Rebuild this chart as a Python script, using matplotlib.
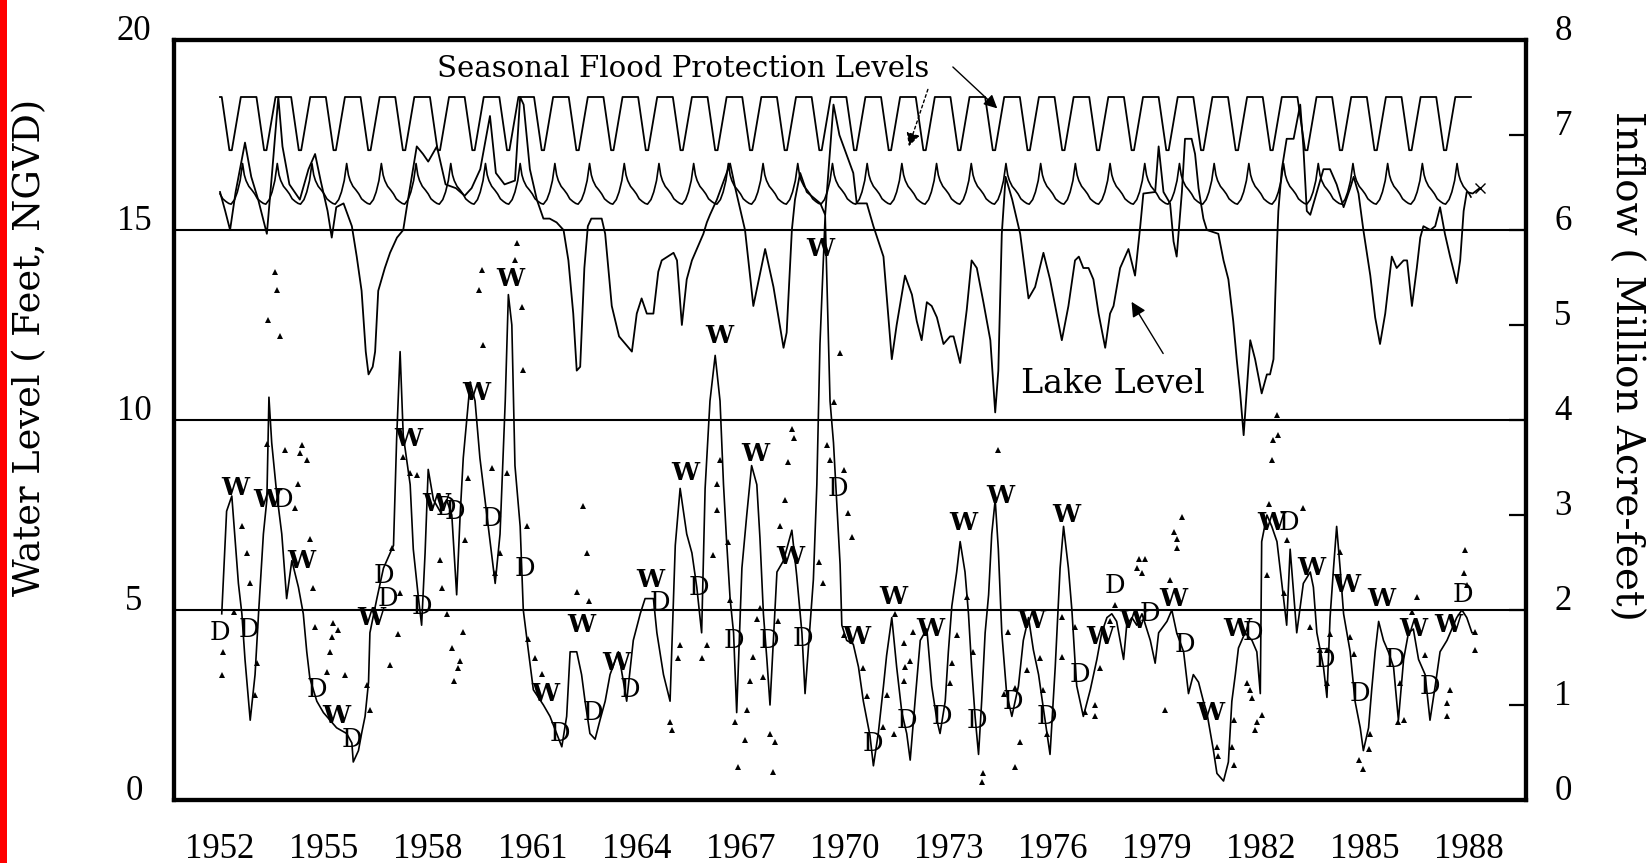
import numpy as np
import matplotlib
matplotlib.use("Agg")
import matplotlib.pyplot as plt
from matplotlib.patches import Rectangle
from matplotlib.transforms import ScaledTranslation, blended_transform_factory

# ---------------- data ----------------
# seasonal flood protection schedules (fraction of year, level ft NGVD), repeated each year
upper_phase = [0.0, 0.05, 0.27, 0.34, 0.60]
upper_level = [18.5, 18.5, 17.1, 17.1, 18.5]
lower_phase = [0.0, 0.08, 0.17, 0.25, 0.32, 0.42, 0.50, 0.58, 0.65, 0.70, 0.75, 0.83, 0.92]
lower_level = [15.95, 15.82, 15.75, 15.70, 15.68, 15.80, 16.00, 16.30, 16.75, 16.45, 16.30, 16.15, 16.05]
schedule_years = list(range(1952, 1989))
schedule_end = 1988.05

# lake level (year, ft NGVD)
lake = [
    (1952.00, 16.0), (1952.15, 15.5), (1952.29, 15.0), (1952.45, 16.0), (1952.72, 17.3),
    (1952.90, 16.4), (1953.10, 15.8), (1953.35, 14.9), (1953.50, 16.5), (1953.68, 18.5),
    (1953.80, 17.2), (1954.00, 16.2), (1954.30, 15.8), (1954.55, 16.6), (1954.74, 17.0),
    (1954.90, 16.3), (1955.10, 15.5), (1955.22, 14.8), (1955.35, 15.6), (1955.56, 15.7),
    (1955.80, 15.1), (1955.94, 14.3), (1956.08, 13.4), (1956.20, 11.8), (1956.28, 11.2),
    (1956.40, 11.4), (1956.47, 11.8), (1956.56, 13.4), (1956.75, 14.0), (1956.90, 14.4),
    (1957.10, 14.8), (1957.28, 15.0), (1957.40, 15.7), (1957.67, 17.2), (1957.85, 17.0),
    (1958.00, 16.8), (1958.25, 17.2), (1958.50, 16.2), (1958.80, 16.1), (1959.05, 15.9),
    (1959.25, 16.1), (1959.50, 16.6), (1959.78, 18.0), (1959.95, 16.5), (1960.20, 16.2),
    (1960.50, 16.3), (1960.65, 18.5), (1960.75, 18.3), (1960.93, 16.6), (1961.13, 15.8),
    (1961.32, 15.3), (1961.50, 15.3), (1961.70, 15.2), (1961.90, 15.0), (1962.04, 14.2),
    (1962.18, 12.8), (1962.28, 11.3), (1962.38, 11.4), (1962.50, 14.0), (1962.60, 15.1),
    (1962.70, 15.3), (1963.00, 15.3), (1963.10, 14.9), (1963.29, 13.0), (1963.50, 12.2),
    (1963.87, 11.8), (1964.01, 12.8), (1964.15, 13.2), (1964.30, 12.8), (1964.49, 12.8),
    (1964.63, 13.9), (1964.73, 14.2), (1965.07, 14.4), (1965.17, 14.2), (1965.31, 12.5),
    (1965.45, 13.7), (1965.60, 14.2), (1965.79, 14.6), (1965.93, 14.9), (1966.03, 15.2),
    (1966.12, 15.4), (1966.32, 15.8), (1966.70, 16.75), (1966.85, 16.1), (1967.13, 15.0),
    (1967.37, 13.0), (1967.71, 14.5), (1967.95, 13.5), (1968.24, 11.9), (1968.33, 12.3),
    (1968.48, 15.0), (1968.57, 15.8), (1968.72, 16.5), (1968.91, 16.0), (1969.30, 15.7),
    (1969.44, 15.4), (1969.68, 18.3), (1969.85, 17.5), (1970.25, 16.5), (1970.35, 15.7),
    (1970.64, 15.7), (1970.83, 15.1), (1971.12, 14.3), (1971.21, 13.3), (1971.36, 11.6),
    (1971.50, 12.5), (1971.74, 13.8), (1971.94, 13.3), (1972.08, 12.6), (1972.22, 12.1),
    (1972.37, 13.1), (1972.51, 13.0), (1972.66, 12.7), (1972.85, 12.0), (1973.04, 12.2),
    (1973.14, 12.2), (1973.33, 11.5), (1973.52, 12.9), (1973.66, 14.2), (1973.81, 14.0),
    (1974.00, 13.1), (1974.20, 12.1), (1974.34, 10.2), (1974.43, 11.3), (1974.53, 14.9),
    (1974.64, 16.4), (1974.83, 15.8), (1975.06, 14.9), (1975.30, 13.2), (1975.49, 13.5),
    (1975.73, 14.4), (1975.92, 13.7), (1976.26, 12.1), (1976.45, 13.0), (1976.64, 14.2),
    (1976.75, 14.3), (1976.88, 14.0), (1977.03, 14.0), (1977.17, 13.7), (1977.32, 12.8),
    (1977.51, 11.9), (1977.65, 12.8), (1977.75, 13.0), (1977.94, 14.0), (1978.18, 14.5),
    (1978.37, 13.8), (1978.52, 15.1), (1978.61, 15.96), (1978.95, 16.0), (1979.05, 17.2),
    (1979.19, 16.0), (1979.38, 15.7), (1979.48, 14.7), (1979.57, 14.3), (1979.72, 16.0),
    (1979.81, 17.4), (1980.00, 17.4), (1980.10, 17.0), (1980.20, 16.1), (1980.34, 15.3),
    (1980.44, 15.0), (1980.77, 14.9), (1980.92, 14.2), (1981.06, 13.7), (1981.20, 12.6),
    (1981.30, 11.6), (1981.40, 10.7), (1981.50, 9.6), (1981.60, 10.9), (1981.69, 12.1),
    (1981.83, 11.6), (1982.02, 10.7), (1982.17, 11.2), (1982.26, 11.2), (1982.36, 11.6),
    (1982.41, 13.2), (1982.46, 14.6), (1982.50, 15.5), (1982.60, 16.6), (1982.74, 17.4),
    (1982.94, 17.4), (1983.13, 18.3), (1983.22, 17.2), (1983.32, 15.5), (1983.42, 15.4),
    (1983.61, 16.0), (1983.80, 16.6), (1983.99, 16.6), (1984.18, 16.2), (1984.38, 15.6),
    (1984.57, 16.1), (1984.67, 16.4), (1984.81, 15.96), (1984.95, 15.0), (1985.15, 13.8),
    (1985.29, 12.7), (1985.43, 12.0), (1985.58, 12.8), (1985.77, 14.3), (1985.91, 14.0),
    (1986.11, 14.2), (1986.21, 14.2), (1986.35, 13.0), (1986.49, 14.0), (1986.59, 14.8),
    (1986.68, 15.1), (1986.88, 15.0), (1987.02, 15.1), (1987.16, 15.6), (1987.30, 14.9),
    (1987.45, 14.3), (1987.64, 13.6), (1987.74, 14.2), (1987.84, 15.5), (1987.93, 16.0),
    (1988.10, 15.96), (1988.30, 16.1),
]
lake_year = [p[0] for p in lake]
lake_level = [p[1] for p in lake]

# inflow (year, million acre-feet)
inflow_pts = [
    (1952.05, 1.96), (1952.19, 3.04), (1952.34, 3.20), (1952.53, 2.28), (1952.63, 1.96),
    (1952.72, 1.48), (1952.87, 0.84), (1953.01, 1.32), (1953.11, 1.96), (1953.25, 2.80),
    (1953.35, 3.16), (1953.41, 4.24), (1953.49, 3.76), (1953.63, 3.24), (1953.78, 2.80),
    (1953.92, 2.12), (1954.07, 2.52), (1954.26, 2.24), (1954.40, 1.96), (1954.50, 1.56),
    (1954.59, 1.28), (1954.79, 1.04), (1954.98, 0.92), (1955.17, 0.84), (1955.36, 0.76),
    (1955.65, 0.70), (1955.80, 0.60), (1955.84, 0.40), (1955.99, 0.52), (1956.08, 0.70),
    (1956.18, 0.88), (1956.28, 1.24), (1956.32, 1.76), (1956.52, 2.12), (1956.71, 2.44),
    (1957.00, 2.68), (1957.09, 3.80), (1957.19, 4.72), (1957.28, 3.84), (1957.48, 3.32),
    (1957.57, 2.64), (1957.72, 2.12), (1957.81, 1.84), (1957.91, 2.60), (1958.00, 3.48),
    (1958.15, 3.16), (1958.34, 3.04), (1958.53, 3.16), (1958.68, 3.00), (1958.82, 2.16),
    (1958.92, 3.00), (1959.01, 3.60), (1959.21, 4.40), (1959.35, 4.20), (1959.49, 3.60),
    (1959.69, 3.00), (1959.93, 2.28), (1960.07, 2.80), (1960.22, 4.20), (1960.31, 5.32),
    (1960.41, 5.00), (1960.50, 3.52), (1960.65, 2.88), (1960.74, 2.00), (1960.89, 1.56),
    (1961.03, 1.16), (1961.32, 1.00), (1961.51, 0.88), (1961.70, 0.70), (1961.85, 0.56),
    (1961.99, 0.88), (1962.09, 1.56), (1962.28, 1.56), (1962.42, 1.32), (1962.52, 1.04),
    (1962.66, 0.70), (1962.81, 0.64), (1962.95, 0.84), (1963.10, 1.04), (1963.24, 1.32),
    (1963.48, 1.56), (1963.72, 1.04), (1963.91, 1.68), (1964.11, 1.96), (1964.25, 2.12),
    (1964.49, 2.12), (1964.59, 1.76), (1964.78, 1.32), (1964.97, 1.04), (1965.12, 2.68),
    (1965.26, 3.28), (1965.45, 2.80), (1965.60, 2.60), (1965.74, 2.24), (1965.88, 1.76),
    (1965.98, 3.28), (1966.12, 4.20), (1966.27, 4.68), (1966.41, 4.20), (1966.51, 3.32),
    (1966.60, 2.72), (1966.70, 2.12), (1966.80, 1.76), (1966.89, 0.92), (1967.04, 2.44),
    (1967.18, 3.00), (1967.32, 3.52), (1967.47, 3.32), (1967.56, 2.76), (1967.66, 1.96),
    (1967.76, 1.48), (1967.85, 1.00), (1968.05, 2.40), (1968.24, 2.52), (1968.48, 2.84),
    (1968.62, 2.36), (1968.77, 1.76), (1968.86, 1.12), (1969.10, 2.32), (1969.20, 3.32),
    (1969.29, 4.80), (1969.44, 6.16), (1969.58, 4.20), (1969.68, 3.76), (1969.77, 3.16),
    (1969.87, 2.48), (1969.92, 1.84), (1970.06, 1.68), (1970.25, 1.64), (1970.40, 1.40),
    (1970.54, 1.04), (1970.73, 0.68), (1970.83, 0.36), (1970.97, 0.70), (1971.12, 1.20),
    (1971.21, 1.52), (1971.36, 1.92), (1971.50, 1.40), (1971.65, 0.92), (1971.79, 0.70),
    (1971.89, 0.42), (1972.03, 1.04), (1972.18, 1.68), (1972.37, 1.80), (1972.51, 1.20),
    (1972.66, 0.84), (1972.75, 0.70), (1972.90, 1.04), (1972.99, 1.56), (1973.09, 2.04),
    (1973.23, 2.40), (1973.33, 2.72), (1973.47, 2.40), (1973.57, 1.96), (1973.66, 1.40),
    (1973.76, 0.88), (1973.86, 0.48), (1973.95, 1.04), (1974.05, 1.76), (1974.15, 2.16),
    (1974.24, 2.80), (1974.34, 3.16), (1974.43, 2.64), (1974.53, 1.76), (1974.67, 1.12),
    (1974.82, 0.88), (1975.01, 1.20), (1975.15, 1.68), (1975.30, 1.92), (1975.44, 1.58),
    (1975.59, 1.32), (1975.73, 0.96), (1975.92, 0.48), (1976.07, 1.40), (1976.21, 2.44),
    (1976.31, 2.88), (1976.45, 2.44), (1976.55, 2.00), (1976.65, 1.40), (1976.69, 1.20),
    (1976.88, 0.88), (1977.08, 1.16), (1977.27, 1.48), (1977.41, 1.76), (1977.56, 1.92),
    (1977.70, 1.96), (1977.84, 1.88), (1978.04, 1.48), (1978.13, 1.84), (1978.28, 1.92),
    (1978.42, 1.84), (1978.57, 1.96), (1978.81, 1.68), (1978.95, 1.44), (1979.05, 1.76),
    (1979.29, 1.88), (1979.43, 2.00), (1979.57, 1.76), (1979.77, 1.56), (1979.91, 1.12),
    (1980.05, 1.32), (1980.20, 1.24), (1980.34, 1.04), (1980.44, 0.92), (1980.63, 0.52),
    (1980.73, 0.28), (1980.92, 0.20), (1981.06, 0.40), (1981.16, 1.04), (1981.26, 1.32),
    (1981.35, 1.60), (1981.54, 1.76), (1981.74, 1.68), (1981.88, 1.56), (1981.98, 1.12),
    (1982.02, 2.72), (1982.17, 3.00), (1982.31, 2.88), (1982.46, 2.72), (1982.65, 2.12),
    (1982.74, 1.84), (1982.84, 2.64), (1983.03, 1.76), (1983.22, 2.28), (1983.42, 2.40),
    (1983.51, 2.24), (1983.61, 1.76), (1983.80, 1.40), (1983.90, 1.08), (1983.99, 1.92),
    (1984.09, 2.44), (1984.18, 2.88), (1984.28, 2.44), (1984.38, 1.96), (1984.57, 1.56),
    (1984.71, 1.04), (1984.86, 0.76), (1984.95, 0.52), (1985.10, 0.76), (1985.19, 1.16),
    (1985.29, 1.56), (1985.39, 1.88), (1985.53, 1.68), (1985.67, 1.56), (1985.82, 1.40),
    (1985.96, 0.84), (1986.11, 1.48), (1986.25, 1.76), (1986.39, 1.80), (1986.54, 1.48),
    (1986.73, 1.32), (1986.87, 0.84), (1987.02, 1.20), (1987.16, 1.56), (1987.36, 1.68),
    (1987.64, 1.92), (1987.79, 2.00), (1987.93, 1.92), (1988.08, 1.76), (1988.17, 1.76),
]
inflow_year = [p[0] for p in inflow_pts]
inflow_value = [p[1] for p in inflow_pts]

# individual monthly inflow points (triangles)
tri_pts = [
    (1953.35, 3.75), (1953.87, 3.68), (1954.35, 3.74), (1954.31, 3.65), (1954.50, 3.58),
    (1954.26, 3.33), (1954.16, 3.07), (1954.59, 2.75), (1954.69, 2.23), (1954.74, 1.82),
    (1955.27, 1.86), (1955.41, 1.79), (1955.22, 1.72), (1955.17, 1.56), (1955.07, 1.35),
    (1955.60, 1.32), (1952.10, 1.56), (1952.05, 1.32), (1952.39, 1.98), (1952.63, 2.88),
    (1952.77, 2.60), (1952.87, 2.28), (1953.06, 1.44), (1953.01, 1.11), (1956.23, 1.21),
    (1956.32, 0.95), (1956.95, 2.65), (1957.19, 2.18), (1957.14, 1.75), (1956.90, 1.42),
    (1957.28, 3.61), (1957.48, 3.44), (1957.67, 3.42), (1958.34, 2.53), (1958.39, 2.23),
    (1958.53, 1.96), (1959.01, 1.77), (1958.68, 1.60), (1958.92, 1.46), (1958.87, 1.39),
    (1958.73, 1.25), (1959.16, 3.39), (1959.83, 3.49), (1960.26, 3.44), (1959.06, 2.74),
    (1960.84, 2.88), (1962.47, 3.09), (1962.57, 2.60), (1962.28, 2.19), (1962.62, 2.09),
    (1960.89, 1.70), (1961.08, 1.49), (1961.27, 1.33), (1960.07, 2.60), (1959.93, 2.39),
    (1953.59, 5.56), (1953.63, 5.37), (1953.39, 5.05), (1953.73, 4.88), (1959.54, 5.58),
    (1959.45, 5.37), (1959.59, 4.79), (1960.55, 5.86), (1960.50, 5.68), (1960.69, 5.19),
    (1960.74, 4.53),
    (1968.48, 3.91), (1968.53, 3.81), (1968.38, 3.56), (1968.29, 3.16), (1968.14, 2.88),
    (1966.41, 3.58), (1966.32, 3.33), (1966.32, 3.05), (1966.22, 2.58), (1966.65, 2.72),
    (1966.70, 2.11), (1969.49, 3.74), (1969.58, 3.58), (1969.97, 3.47), (1970.11, 3.02),
    (1970.21, 2.77), (1969.25, 2.51), (1969.39, 2.28), (1965.26, 1.63), (1965.21, 1.49),
    (1966.03, 1.63), (1965.88, 1.49), (1964.97, 0.82), (1965.02, 0.74), (1966.84, 0.82),
    (1967.18, 0.95), (1967.13, 0.63), (1966.94, 0.35), (1967.85, 0.70), (1968.00, 0.61),
    (1967.95, 0.30), (1967.28, 1.25), (1967.66, 1.30), (1967.37, 1.51), (1967.47, 1.91),
    (1968.09, 1.88), (1967.56, 2.02), (1969.97, 1.74), (1971.45, 1.96), (1971.70, 1.65),
    (1971.98, 1.77), (1971.74, 1.40), (1971.89, 1.46), (1971.70, 1.25), (1970.54, 1.39),
    (1970.64, 1.09), (1971.12, 0.77), (1971.21, 1.11), (1971.41, 0.70), (1973.23, 1.74),
    (1973.09, 1.44), (1973.04, 1.23), (1973.52, 2.14), (1973.71, 1.56), (1974.72, 1.77),
    (1974.58, 1.12), (1974.91, 1.18), (1975.25, 1.37), (1975.06, 0.61), (1974.91, 0.35),
    (1974.00, 0.28), (1973.95, 0.19), (1974.43, 3.68), (1975.63, 1.49), (1975.73, 1.16),
    (1975.83, 0.70), (1976.26, 1.93), (1976.26, 1.51), (1976.64, 1.82), (1969.87, 4.70),
    (1969.68, 4.19),
    (1982.46, 4.05), (1982.50, 3.84), (1982.36, 3.79), (1982.31, 3.58), (1982.22, 3.12),
    (1983.22, 3.07), (1982.17, 2.37), (1979.72, 2.98), (1979.48, 2.82), (1979.57, 2.75),
    (1979.57, 2.65), (1978.47, 2.54), (1978.66, 2.54), (1978.42, 2.44), (1978.57, 2.39),
    (1979.38, 2.32), (1977.80, 2.05), (1977.65, 1.88), (1977.36, 1.39), (1977.22, 1.00),
    (1976.93, 0.93), (1977.22, 0.88), (1979.24, 0.95), (1981.69, 1.16), (1981.59, 1.23),
    (1981.74, 1.07), (1982.02, 0.89), (1981.88, 0.82), (1981.83, 0.74), (1981.21, 0.84),
    (1981.16, 0.56), (1980.73, 0.56), (1980.77, 0.46), (1981.21, 0.37), (1982.74, 2.74),
    (1982.65, 2.18), (1983.42, 1.82), (1983.99, 1.75), (1983.90, 1.58), (1983.70, 1.58),
    (1984.28, 2.61), (1984.57, 1.72), (1984.67, 1.54), (1984.81, 0.42), (1984.95, 0.33),
    (1985.15, 0.70), (1985.10, 0.54), (1986.49, 2.14), (1986.35, 1.98), (1986.73, 1.53),
    (1987.36, 1.02), (1987.45, 1.16), (1987.36, 0.88), (1988.17, 1.77), (1988.17, 1.58),
    (1987.88, 2.63), (1987.84, 2.39), (1987.93, 2.26), (1986.11, 0.84), (1985.96, 0.82),
    (1986.01, 1.23), (1983.90, 1.23),
]
tri_year = [p[0] for p in tri_pts]
tri_value = [p[1] for p in tri_pts]

# wet (W) / dry (D) season markers: (letter, year, inflow)
season_marks = [
    ("D", 1952.00, 1.76), ("W", 1952.43, 3.28), ("D", 1952.82, 1.80), ("W", 1953.35, 3.16),
    ("D", 1953.82, 3.16), ("W", 1954.35, 2.52), ("D", 1954.79, 1.16), ("W", 1955.36, 0.88),
    ("D", 1955.80, 0.64), ("W", 1956.37, 1.92), ("D", 1956.72, 2.36), ("D", 1956.85, 2.12),
    ("W", 1957.43, 3.80), ("D", 1957.81, 2.04), ("W", 1958.22, 3.12), ("D", 1958.52, 3.08),
    ("D", 1958.78, 3.04), ("W", 1959.40, 4.28), ("D", 1959.83, 2.96), ("W", 1960.36, 5.48),
    ("D", 1960.79, 2.44), ("W", 1961.37, 1.12), ("D", 1961.80, 0.70), ("W", 1962.42, 1.84),
    ("D", 1962.76, 0.92), ("W", 1963.43, 1.44), ("D", 1963.82, 1.16), ("W", 1964.39, 2.32),
    ("D", 1964.68, 2.08), ("W", 1965.40, 3.44), ("D", 1965.79, 2.24), ("W", 1966.40, 4.88),
    ("D", 1966.80, 1.68), ("W", 1967.42, 3.64), ("D", 1967.81, 1.68), ("W", 1968.43, 2.56),
    ("D", 1968.81, 1.70), ("W", 1969.29, 5.80), ("D", 1969.82, 3.28), ("W", 1970.35, 1.72),
    ("D", 1970.83, 0.60), ("W", 1971.41, 2.14), ("D", 1971.79, 0.84), ("W", 1972.46, 1.80),
    ("D", 1972.80, 0.88), ("W", 1973.42, 2.92), ("D", 1973.81, 0.84), ("W", 1974.48, 3.20),
    ("D", 1974.86, 1.04), ("W", 1975.39, 1.88), ("D", 1975.83, 0.88), ("W", 1976.40, 3.00),
    ("D", 1976.79, 1.32), ("W", 1977.36, 1.72), ("D", 1977.80, 2.26), ("W", 1978.33, 1.88),
    ("D", 1978.80, 1.96), ("W", 1979.48, 2.12), ("D", 1979.81, 1.64), ("W", 1980.53, 0.92),
    ("W", 1981.33, 1.80), ("D", 1981.76, 1.76), ("W", 1982.29, 2.92), ("D", 1982.81, 2.92),
    ("W", 1983.46, 2.44), ("D", 1983.85, 1.48), ("W", 1984.47, 2.26), ("D", 1984.86, 1.12),
    ("W", 1985.48, 2.12), ("D", 1985.87, 1.48), ("W", 1986.39, 1.80), ("D", 1986.87, 1.20),
    ("W", 1987.40, 1.84), ("D", 1987.83, 2.16),
]

left_ticks = [0, 5, 10, 15, 20]
right_ticks = [0, 1, 2, 3, 4, 5, 6, 7, 8]
year_ticks = [1952, 1955, 1958, 1961, 1964, 1967, 1970, 1973, 1976, 1979, 1982, 1985, 1988]
grid_levels = [5, 10, 15]

# ---------------- figure ----------------
W, H, DPI = 1650, 863, 100
fig = plt.figure(figsize=(W / DPI, H / DPI), dpi=DPI)
fig.patch.set_facecolor("white")
fig.add_artist(Rectangle((0, 0), 7 / W, 1, transform=fig.transFigure,
                         facecolor="#ff0000", edgecolor="none"))

L, R, T, B = 174, 1526, 40, 800
ax = fig.add_axes([L / W, (H - B) / H, (R - L) / W, (B - T) / H])
ax.set_xlim(1950.674, 1989.637)
ax.set_ylim(0, 20)
ax2 = ax.twinx()
ax2.set_ylim(0, 8)

for a in (ax, ax2):
    for s in a.spines.values():
        s.set_linewidth(3.0)
        s.set_color("black")

ax.tick_params(left=False, bottom=False, labelleft=False, labelbottom=False)
ax2.set_yticks(right_ticks)
ax2.tick_params(axis="y", right=True, direction="in", length=12.5, width=1.6,
                labelright=False)

for g in grid_levels:
    ax.axhline(g, color="black", lw=1.5, zorder=1)


def build_schedule(phase, level):
    t, v = [], []
    for y in schedule_years:
        for f, val in zip(phase, level):
            if y + f <= schedule_end:
                t.append(y + f)
                v.append(val)
    t.append(schedule_end)
    v.append(float(np.interp(schedule_end - int(schedule_end), phase, level)))
    return t, v


ut, uv = build_schedule(upper_phase, upper_level)
lt, lv = build_schedule(lower_phase, lower_level)
ax.plot(ut, uv, color="black", lw=1.3, zorder=3)
ax.plot(lt, lv, color="black", lw=1.2, zorder=3)
ax.plot(lake_year, lake_level, color="black", lw=1.3, zorder=3)
ax.plot(lake_year[-1:], lake_level[-1:], marker="x", color="black", ms=7, mew=1, zorder=3)

ax2.plot(inflow_year, inflow_value, color="black", lw=1.2, zorder=3)
ax2.plot(tri_year, tri_value, ls="none", marker="^", ms=4.0, color="black", mew=0, zorder=3)
serif = ["DejaVu Serif"]
for letter, yr, val in season_marks:
    ax2.text(yr, val, letter, ha="center", va="center",
             fontsize=18 if letter == "W" else 18.5,
             fontweight="bold" if letter == "W" else "normal",
             family=serif, color="black", zorder=4)

# tick labels
num_font = ["Liberation Serif", "DejaVu Serif"]
tl = blended_transform_factory(ax.transAxes, ax.transData)
for v in left_ticks:
    ax.text(-40 / (R - L), v, str(v), transform=tl, ha="center", va="baseline",
            fontsize=25, family=num_font, clip_on=False)
tr = blended_transform_factory(ax2.transAxes, ax2.transData)
for v in right_ticks:
    ax2.text(1 + 37 / (R - L), v, str(v), transform=tr, ha="center", va="baseline",
             fontsize=25, family=num_font, clip_on=False)
tb = blended_transform_factory(ax.transData, ax.transAxes) + \
    ScaledTranslation(0, -58 / DPI, fig.dpi_scale_trans)
for yr in year_ticks:
    ax.text(yr, 0, str(yr), transform=tb, ha="center", va="baseline",
            fontsize=25, family=num_font, clip_on=False)

fig.text(30 / W, 1 - 347 / H, "Water Level ( Feet, NGVD)", rotation=90,
         ha="center", va="center", fontsize=26.5, family=serif)
fig.text(1626 / W, 1 - 366 / H, "Inflow ( Million Acre-feet)", rotation=270,
         ha="center", va="center", fontsize=28, family=serif)

# annotations
ax.text(1958.25, 19.03, "Seasonal Flood Protection Levels", ha="left", va="baseline",
        fontsize=21, family=serif, zorder=5)
ax.annotate("", xy=(1974.4, 18.2), xytext=(1973.12, 19.29),
            arrowprops=dict(arrowstyle="-|>", color="black", lw=1.0, mutation_scale=20,
                            shrinkA=0, shrinkB=0), zorder=5)
ax.annotate("", xy=(1971.85, 17.2), xytext=(1972.4, 18.7),
            arrowprops=dict(arrowstyle="-|>", color="black", lw=1.0, ls=(0, (2, 2)),
                            mutation_scale=20, shrinkA=0, shrinkB=0), zorder=5)
ax.text(1975.08, 10.71, "Lake Level", ha="left", va="baseline", fontsize=24,
        family=serif, zorder=5)
ax.annotate("", xy=(1978.27, 13.11), xytext=(1979.18, 11.75),
            arrowprops=dict(arrowstyle="-|>", color="black", lw=1.0, mutation_scale=22,
                            shrinkA=0, shrinkB=0), zorder=5)

fig.savefig("out.png", dpi=DPI, facecolor="white")
